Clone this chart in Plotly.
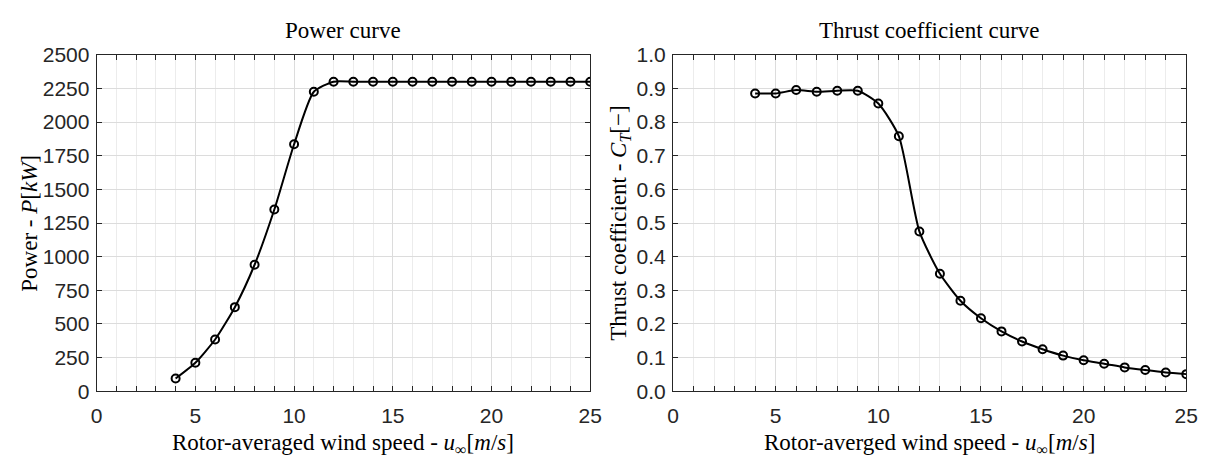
import plotly.graph_objects as go

wind_speed = list(range(4, 26))
power_kw = [95, 212, 385, 625, 940, 1350, 1835, 2225, 2300, 2300, 2300, 2300, 2300,
            2300, 2300, 2300, 2300, 2300, 2300, 2300, 2300, 2300]
thrust_ct = [0.885, 0.885, 0.895, 0.890, 0.893, 0.893, 0.855, 0.758, 0.475, 0.349,
             0.269, 0.217, 0.178, 0.148, 0.125, 0.106, 0.092, 0.082, 0.071, 0.063,
             0.056, 0.051]

x_ticks = [0, 5, 10, 15, 20, 25]
p_ticks = [0, 250, 500, 750, 1000, 1250, 1500, 1750, 2000, 2250, 2500]
ct_ticks = [0.0, 0.1, 0.2, 0.3, 0.4, 0.5, 0.6, 0.7, 0.8, 0.9, 1.0]

W, H = 1218, 459
AX = "#262626"
SERIF = "Liberation Serif"
SANS = "Liberation Sans"

fig = go.Figure()

def add_series(y, xa, ya):
    fig.add_trace(go.Scatter(
        x=wind_speed, y=y, xaxis=xa, yaxis=ya, mode="lines+markers",
        line=dict(color="black", width=2, shape="spline", smoothing=0.6),
        marker=dict(symbol="circle-open", size=8, color="black", line=dict(width=2)),
        showlegend=False, hoverinfo="x+y"))

add_series(power_kw, "x", "y")
add_series(thrust_ct, "x2", "y2")

def xaxis(dom, anchor):
    return dict(domain=dom, anchor=anchor, range=[0, 25], tickvals=x_ticks,
                ticktext=[str(v) for v in x_ticks],
                showline=True, linecolor=AX, linewidth=1, mirror="allticks",
                ticks="inside", ticklen=5, tickcolor=AX, tickwidth=1,
                ticklabelstandoff=6,
                showgrid=True, gridcolor="#dcdcdc", gridwidth=1, zeroline=False,
                minor=dict(dtick=1, tick0=0, showgrid=True, gridcolor="#ececec",
                           ticks="inside", ticklen=5, tickcolor=AX, tickwidth=1),
                tickfont=dict(family=SANS, size=21, color=AX))

def yaxis(dom, anchor, rng, vals, fmt):
    return dict(domain=dom, anchor=anchor, range=rng, tickvals=vals,
                ticktext=[fmt(v) for v in vals],
                showline=True, linecolor=AX, linewidth=1, mirror="allticks",
                ticks="inside", ticklen=5, tickcolor=AX, tickwidth=1,
                ticklabelstandoff=2,
                showgrid=True, gridcolor="#dcdcdc", gridwidth=1, zeroline=False,
                tickfont=dict(family=SANS, size=21, color=AX))

ydom = [1 - 399.3 / H, 1 - 45 / H]
left_dom = [92 / W, 593 / W]
right_dom = [677 / W, 1198 / W]

fig.update_layout(
    width=W, height=H, margin=dict(l=0, r=0, t=0, b=0),
    paper_bgcolor="white", plot_bgcolor="white",
    xaxis=xaxis(left_dom, "y"),
    yaxis=yaxis(ydom, "x", [0, 2500], p_ticks, lambda v: str(v)),
    xaxis2=xaxis(right_dom, "y2"),
    yaxis2=yaxis(ydom, "x2", [0, 1.0], ct_ticks, lambda v: f"{v:.1f}"),
)

tfont = dict(family=SERIF, size=23, color="black")
ann = [
    dict(text="Power curve", x=sum(left_dom) / 2, y=1 - 20 / H, yanchor="middle"),
    dict(text="Thrust coefficient curve", x=sum(right_dom) / 2, y=1 - 20 / H,
         yanchor="middle"),
    dict(text="Rotor-averaged wind speed - <i>u</i><sub>∞</sub>[<i>m</i>/<i>s</i>]",
         x=sum(left_dom) / 2, y=0, yanchor="bottom", yshift=-12),
    dict(text="Rotor-averged wind speed - <i>u</i><sub>∞</sub>[<i>m</i>/<i>s</i>]",
         x=sum(right_dom) / 2, y=0, yanchor="bottom", yshift=-12),
    dict(text="Power - <i>P</i>[<i>kW</i>]", x=23 / W, y=sum(ydom) / 2,
         yanchor="middle", textangle=-90),
    dict(text="Thrust coefficient - <i>C</i><sub><i>T</i></sub>[−]", x=623 / W,
         y=sum(ydom) / 2, yanchor="middle", textangle=-90),
]
for a in ann:
    fig.add_annotation(xref="paper", yref="paper", showarrow=False,
                       xanchor="center", font=tfont, **a)

fig.write_html("out.html")
